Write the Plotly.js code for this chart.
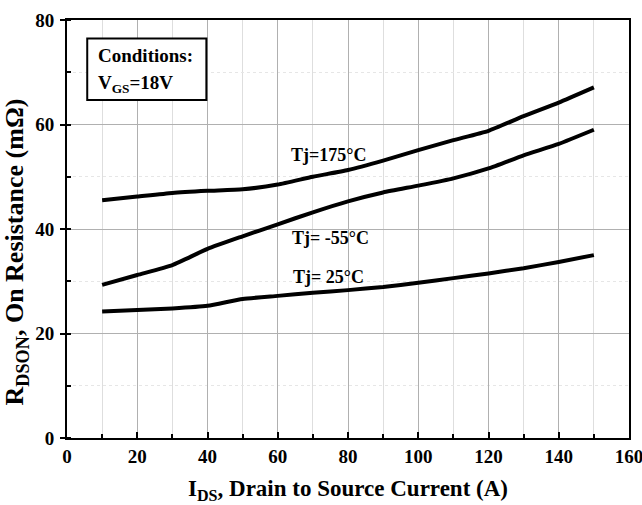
<!DOCTYPE html>
<html>
<head>
<meta charset="utf-8">
<script src="https://cdn.plot.ly/plotly-3.0.1.min.js"></script>
<style>
html,body{margin:0;padding:0;background:#fff;}
#chart{width:642px;height:505px;}
</style>
</head>
<body>
<div id="chart"></div>
<script>
// Drain-source current (A)
const current = [10, 20, 30, 40, 50, 60, 70, 80, 90, 100, 110, 120, 130, 140, 150];
// On resistance (mOhm) per junction temperature
const rdsTj175 = [45.5, 46.2, 46.9, 47.3, 47.6, 48.5, 50.0, 51.3, 53.1, 55.1, 57.0, 58.8, 61.6, 64.2, 67.1];
const rdsTjM55 = [29.3, 31.2, 33.1, 36.2, 38.6, 40.9, 43.2, 45.3, 47.0, 48.3, 49.7, 51.6, 54.1, 56.3, 59.0];
const rdsTj25  = [24.2, 24.5, 24.8, 25.3, 26.6, 27.2, 27.8, 28.3, 28.9, 29.7, 30.6, 31.5, 32.5, 33.7, 35.0];
const seriesLabels = ["Tj=175\u00B0C", "Tj= -55\u00B0C", "Tj= 25\u00B0C"];
const xTickVals = [0, 20, 40, 60, 80, 100, 120, 140, 160];
const yTickVals = [0, 20, 40, 60, 80];

const FONT = "Liberation Serif, Times New Roman, serif";
const lineStyle = {color: "#000", width: 4, shape: "spline", smoothing: 0.5};

const traces = [
  {x: current, y: rdsTj175, name: seriesLabels[0], mode: "lines", line: lineStyle},
  {x: current, y: rdsTjM55, name: seriesLabels[1], mode: "lines", line: lineStyle},
  {x: current, y: rdsTj25,  name: seriesLabels[2], mode: "lines", line: lineStyle}
];

const annFont = {family: FONT, size: 19, color: "#000", weight: "bold"};
const curveFont = {family: FONT, size: 18, color: "#000", weight: "bold"};

const layout = {
  width: 642, height: 505,
  margin: {l: 67, r: 13, t: 20, b: 67},
  paper_bgcolor: "#fff", plot_bgcolor: "#fff",
  showlegend: false,
  font: {family: FONT, color: "#000"},
  xaxis: {
    range: [0, 160], tickvals: xTickVals, ticktext: xTickVals.map(String),
    ticks: "inside", ticklen: 6, tickwidth: 2, tickcolor: "#000",
    showline: true, linecolor: "#000", linewidth: 2, mirror: true,
    showgrid: true, gridcolor: "#b0b0b0", gridwidth: 1, zeroline: false,
    tickfont: {family: FONT, size: 19, color: "#000", weight: "bold"},
    ticklabelstandoff: 0, ticklabeloverflow: "allow",
    minor: {dtick: 10, tick0: 0, ticks: "inside", ticklen: 4, tickwidth: 2, tickcolor: "#000",
            showgrid: true, gridcolor: "#dedede", gridwidth: 1}
  },
  yaxis: {
    range: [0, 80], tickvals: yTickVals, ticktext: yTickVals.map(String),
    ticks: "outside", ticklen: 5, tickwidth: 2, tickcolor: "#000",
    showline: true, linecolor: "#000", linewidth: 2, mirror: true,
    showgrid: true, gridcolor: "#b0b0b0", gridwidth: 1, zeroline: false,
    tickfont: {family: FONT, size: 19, color: "#000", weight: "bold"},
    ticklabelstandoff: 2, ticklabeloverflow: "allow",
    minor: {dtick: 10, tick0: 0, ticks: "inside", ticklen: 4, tickwidth: 2, tickcolor: "#000",
            showgrid: true, gridcolor: "#e6e6e6", gridwidth: 1, griddash: "dot"}
  },
  shapes: [
    {type: "rect", xref: "paper", yref: "paper", x0: 0.036, x1: 0.248, y0: 0.8086, y1: 0.956,
     line: {color: "#000", width: 2}, fillcolor: "#fff", layer: "above"}
  ],
  annotations: [
    {xref: "paper", yref: "paper", x: 0.052, y: 0.916, xanchor: "left", yanchor: "middle",
     text: "Conditions:", showarrow: false, font: annFont},
    {xref: "paper", yref: "paper", x: 0.052, y: 0.848, xanchor: "left", yanchor: "middle",
     text: "V<sub>GS</sub>=18V", showarrow: false, font: annFont},
    {xref: "paper", yref: "paper", x: 0.4657, y: 0.677, xanchor: "center", yanchor: "middle",
     text: seriesLabels[0], showarrow: false, font: curveFont},
    {xref: "paper", yref: "paper", x: 0.469, y: 0.4785, xanchor: "center", yanchor: "middle",
     text: seriesLabels[1], showarrow: false, font: curveFont},
    {xref: "paper", yref: "paper", x: 0.4657, y: 0.386, xanchor: "center", yanchor: "middle",
     text: seriesLabels[2], showarrow: false, font: curveFont},
    {xref: "paper", yref: "paper", x: 0.5, y: -0.125, xanchor: "center", yanchor: "middle",
     text: "I<sub>DS</sub>, Drain to Source Current (A)", showarrow: false,
     font: {family: FONT, size: 23, color: "#000", weight: "bold"}},
    {xref: "paper", yref: "paper", x: -0.09, y: 0.445, xanchor: "center", yanchor: "middle",
     textangle: -90,
     text: "R<sub>DSON</sub>, On Resistance (m\u03A9)", showarrow: false,
     font: {family: FONT, size: 26, color: "#000", weight: "bold"}}
  ]
};

Plotly.newPlot("chart", traces, layout, {displayModeBar: false, staticPlot: true});
</script>
</body>
</html>
